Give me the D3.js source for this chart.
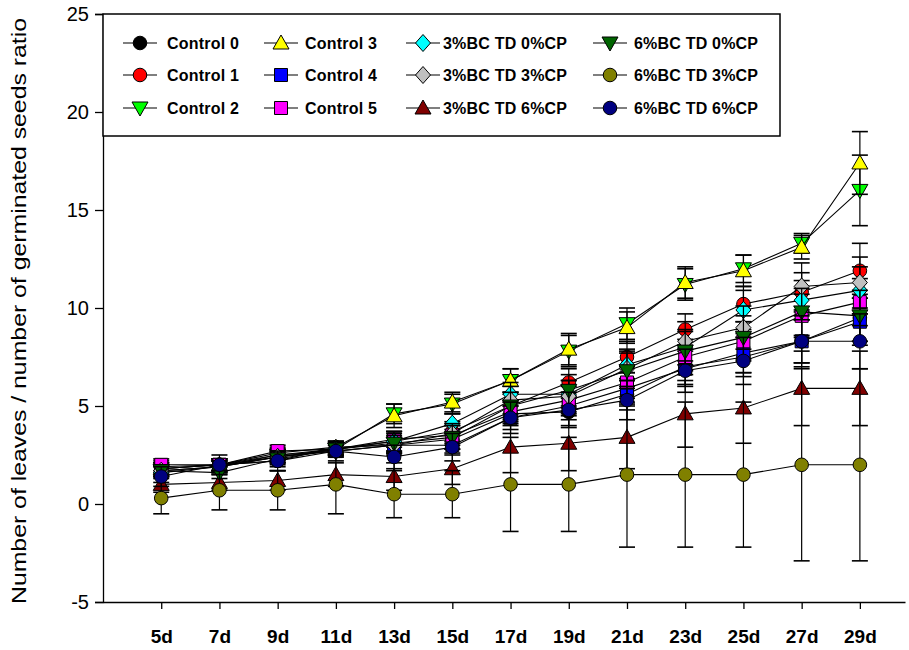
<!DOCTYPE html>
<html><head><meta charset="utf-8">
<script src="https://cdn.jsdelivr.net/npm/d3@7"></script>
<style>body{margin:0;background:#fff;} svg{display:block;}</style>
</head><body><svg id="c" width="909" height="650"></svg>
<script>
const days = [5,7,9,11,13,15,17,19,21,23,25,27,29];
const dayLabels = ["5d","7d","9d","11d","13d","15d","17d","19d","21d","23d","25d","27d","29d"];
const yTicks = [-5,0,5,10,15,20,25];
const yTickLabels = ["-5","0","5","10","15","20","25"];
const seriesNames = ["Control 0","Control 1","Control 2","Control 3","Control 4","Control 5",
  "3%BC TD 0%CP","3%BC TD 3%CP","3%BC TD 6%CP","6%BC TD 0%CP","6%BC TD 3%CP","6%BC TD 6%CP"];
const seriesColors = ["#000000","#ff0000","#00ff00","#ffff00","#0000ff","#ff00ff",
  "#00ffff","#c0c0c0","#800000","#006400","#808000","#000080"];
const seriesShapes = ["circle","circle","down","up","square","square","diamond","diamond","up","down","circle","circle"];

const control0 = [1.8,2.0,2.2,2.9,3.0,3.3,4.6,4.7,5.6,7.0,7.5,8.3,9.5];
const control1 = [1.8,2.0,2.4,2.8,3.2,3.7,5.0,6.2,7.5,8.9,10.2,10.8,11.9];
const control2 = [1.7,1.9,2.5,2.8,4.6,5.1,6.3,7.8,9.2,11.2,12.0,13.3,16.0];
const control3 = [1.8,2.0,2.6,2.9,4.5,5.2,6.3,7.9,9.0,11.3,11.9,13.1,17.4];
const control4 = [1.9,2.0,2.5,2.7,3.0,3.0,4.4,5.0,5.9,6.9,7.7,8.3,9.3];
const control5 = [2.0,2.0,2.7,2.8,3.3,3.5,4.7,5.3,6.2,7.5,8.3,9.6,10.3];
const bc3cp0 = [1.6,1.9,2.4,2.8,3.2,4.1,5.6,5.6,7.1,8.0,9.9,10.4,10.9];
const bc3cp3 = [1.7,1.9,2.4,2.7,3.0,3.6,5.3,5.5,6.9,8.3,9.0,11.1,11.3];
const bc3cp6 = [1.0,1.1,1.2,1.5,1.4,1.8,2.9,3.1,3.4,4.6,4.9,5.9,5.9];
const bc6cp0 = [1.7,1.6,2.3,2.8,3.1,3.4,5.0,5.8,6.8,7.8,8.5,9.8,9.6];
const bc6cp3 = [0.3,0.7,0.7,1.0,0.5,0.5,1.0,1.0,1.5,1.5,1.5,2.0,2.0];
const bc6cp6 = [1.4,2.0,2.2,2.7,2.4,2.9,4.4,4.8,5.3,6.8,7.3,8.3,8.3];

const err0 = [0.3,0.3,0.3,0.3,0.4,0.5,0.6,0.7,0.8,0.9,1.0,1.1,1.2];
const err1 = [0.3,0.3,0.3,0.3,0.5,0.5,0.6,0.7,0.8,0.8,0.9,1.0,1.4];
const err2 = [0.3,0.3,0.3,0.3,0.5,0.5,0.6,0.8,0.8,0.8,0.7,0.5,1.8];
const err3 = [0.3,0.3,0.3,0.3,0.6,0.5,0.6,0.8,0.8,0.8,0.8,0.6,1.6];
const err4 = [0.3,0.3,0.3,0.3,0.4,0.5,0.6,0.7,0.8,0.9,1.0,1.1,1.2];
const err5 = [0.3,0.3,0.3,0.3,0.4,0.5,0.6,0.7,0.8,0.9,1.0,1.1,1.2];
const err6 = [0.3,0.3,0.3,0.3,0.5,0.5,0.6,0.7,0.8,0.9,1.0,1.0,1.2];
const err7 = [0.3,0.3,0.3,0.3,0.5,0.5,0.7,0.8,0.9,1.0,1.1,1.2,1.3];
const err8 = [0.4,0.4,0.5,0.6,0.7,0.8,1.3,1.4,1.6,1.7,1.8,1.9,1.9];
const err9 = [0.3,0.3,0.3,0.3,0.5,0.6,0.7,0.8,0.9,1.0,1.1,1.2,1.3];
const err10 = [0.8,1.0,1.0,1.5,1.2,1.2,2.4,2.4,3.7,3.7,3.7,4.9,4.9];
const err11 = [0.5,0.5,0.5,0.5,0.6,0.7,0.8,0.9,1.0,1.1,1.2,1.3,1.4];

const values = [control0,control1,control2,control3,control4,control5,bc3cp0,bc3cp3,bc3cp6,bc6cp0,bc6cp3,bc6cp6];
const errors = [err0,err1,err2,err3,err4,err5,err6,err7,err8,err9,err10,err11];

const svg = d3.select("#c");
const x = d3.scaleLinear().domain([3, 30.55]).range([103, 905]);
const y = d3.scaleLinear().domain([-5, 25]).range([602, 14]);

function shapePath(shape){
  switch(shape){
    case "circle": return d3.symbol(d3.symbolCircle, 145)();
    case "square": return "M-6.5,-6.5H6.5V6.5H-6.5Z";
    case "diamond": return "M0,-8.5L7.5,0L0,8.5L-7.5,0Z";
    case "up": return "M0,-8L8,6H-8Z";
    case "down": return "M0,8L8,-6H-8Z";
  }
}

// axes
const yAxis = d3.axisLeft(y).tickValues(yTicks).tickFormat((d,i)=>yTickLabels[i]).tickSize(8).tickPadding(6);
const gy = svg.append("g").attr("transform","translate(103,0)").call(yAxis);
gy.select(".domain").attr("stroke","#000").attr("stroke-width",1.3);
gy.selectAll(".tick line").attr("stroke","#000").attr("stroke-width",1.3);
gy.selectAll(".tick text").attr("font-family","Liberation Sans, Arial, sans-serif").attr("font-size",20).attr("fill","#000");

const xAxis = d3.axisBottom(x).tickValues(days).tickFormat((d,i)=>dayLabels[i]).tickSize(7).tickPadding(21).tickSizeOuter(0);
const gx = svg.append("g").attr("transform","translate(0,602)").call(xAxis);
gx.select(".domain").attr("stroke","#000").attr("stroke-width",1.3);
gx.selectAll(".tick line").attr("stroke","#000").attr("stroke-width",1.3);
gx.selectAll(".tick text").attr("font-family","Liberation Sans, Arial, sans-serif").attr("font-size",19).attr("font-weight","bold").attr("fill","#000");

svg.append("text").attr("transform","translate(26,311) rotate(-90)").attr("text-anchor","middle")
  .attr("font-family","Liberation Sans, Arial, sans-serif").attr("font-size",21).attr("textLength",586).attr("lengthAdjust","spacingAndGlyphs")
  .text("Number of leaves / number of germinated seeds ratio");

// data
const line = d3.line().x((d,i)=>x(days[i])).y(d=>y(d));
values.forEach((vals,s)=>{
  const g = svg.append("g");
  vals.forEach((v,i)=>{
    const e = errors[s][i], cx = x(days[i]);
    g.append("line").attr("x1",cx).attr("x2",cx).attr("y1",y(v-e)).attr("y2",y(v+e)).attr("stroke","#000").attr("stroke-width",1.2);
    [v-e, v+e].forEach(t=>g.append("line").attr("x1",cx-8).attr("x2",cx+8).attr("y1",y(t)).attr("y2",y(t)).attr("stroke","#000").attr("stroke-width",1.6));
  });
  g.append("path").datum(vals).attr("d",line).attr("fill","none").attr("stroke","#000").attr("stroke-width",1.1);
  g.selectAll("path.m").data(vals).join("path").attr("class","m")
    .attr("transform",(d,i)=>`translate(${x(days[i])},${y(d)})`)
    .attr("d",shapePath(seriesShapes[s])).attr("fill",seriesColors[s]).attr("stroke","#000").attr("stroke-width",1);
});

// legend
const lg = svg.append("g");
lg.append("rect").attr("x",103).attr("y",14).attr("width",677).attr("height",122).attr("fill","#fff").attr("stroke","#000").attr("stroke-width",1.5);
const colMarker = [140, 281, 423, 610];
const colText = [167, 305, 443, 634];
const rowY = [43, 75, 108];
seriesNames.forEach((name,s)=>{
  const c = Math.floor(s/3), r = s%3;
  const mx = colMarker[c], my = rowY[r];
  lg.append("line").attr("x1",mx-17).attr("x2",mx+17).attr("y1",my).attr("y2",my).attr("stroke","#000").attr("stroke-width",1.2);
  lg.append("path").attr("transform",`translate(${mx},${my})`).attr("d",shapePath(seriesShapes[s])).attr("fill",seriesColors[s]).attr("stroke","#000");
  lg.append("text").attr("x",colText[c]).attr("y",my).attr("dy","0.35em").attr("font-family","Liberation Sans, Arial, sans-serif")
    .attr("font-size",16).attr("font-weight","bold").attr("letter-spacing",0.2).text(name);
});
</script></body></html>
